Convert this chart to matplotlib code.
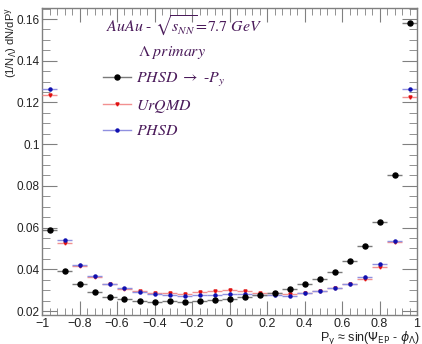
import numpy as np
import matplotlib
matplotlib.use("Agg")
import matplotlib.pyplot as plt
from matplotlib.ticker import MultipleLocator
from matplotlib.lines import Line2D

# ---- data ----
bin_centers = [-0.96, -0.88, -0.80, -0.72, -0.64, -0.56, -0.48, -0.40, -0.32, -0.24, -0.16, -0.08,
               0.00, 0.08, 0.16, 0.24, 0.32, 0.40, 0.48, 0.56, 0.64, 0.72, 0.80, 0.88, 0.96]
phsd_flip = [0.0590, 0.0392, 0.0328, 0.0293, 0.0269, 0.0258, 0.0250, 0.0245, 0.0247, 0.0244,
             0.0248, 0.0253, 0.0258, 0.0268, 0.0275, 0.0287, 0.0305, 0.0328, 0.0353, 0.0389,
             0.0441, 0.0512, 0.0628, 0.0852, 0.1579]
urqmd = [0.1235, 0.0527, 0.0418, 0.0365, 0.0329, 0.0307, 0.0294, 0.0287, 0.0287, 0.0283,
         0.0293, 0.0295, 0.0303, 0.0295, 0.0288, 0.0287, 0.0280, 0.0285, 0.0295, 0.0311,
         0.0330, 0.0355, 0.0412, 0.0530, 0.1224]
phsd = [0.1263, 0.0540, 0.0422, 0.0368, 0.0331, 0.0309, 0.0293, 0.0283, 0.0277, 0.0273,
        0.0278, 0.0279, 0.0283, 0.0280, 0.0275, 0.0275, 0.0273, 0.0285, 0.0296, 0.0312,
        0.0331, 0.0365, 0.0424, 0.0536, 0.1263]
bin_half_width = 0.04
x_ticks = [-1, -0.8, -0.6, -0.4, -0.2, 0, 0.2, 0.4, 0.6, 0.8, 1]
x_tick_labels = ["\u22121", "\u22120.8", "\u22120.6", "\u22120.4", "\u22120.2", "0", "0.2", "0.4", "0.6", "0.8", "1"]
y_ticks = [0.02, 0.04, 0.06, 0.08, 0.1, 0.12, 0.14, 0.16]
y_tick_labels = ["0.02", "0.04", "0.06", "0.08", "0.1", "0.12", "0.14", "0.16"]

plt.rcParams['font.family'] = ['Liberation Sans', 'DejaVu Sans']
plt.rcParams['mathtext.fontset'] = 'stix'

fig = plt.figure(figsize=(4.22, 3.44), dpi=100)
ax = fig.add_axes([42/422, 29/344, 375/422, 307/344])

txtcol = '#4a1a5a'
axcol = '#808080'
col_b, ecol_b = 'black', '#7a7a7a'
col_r, ecol_r = '#e01010', '#f29090'
col_u, ecol_u = '#1010b0', '#9090e0'

ax.errorbar(bin_centers, phsd_flip, xerr=bin_half_width, yerr=0.0004, fmt='o', color=col_b,
            ecolor=ecol_b, elinewidth=1.0, markersize=3.6, capsize=0, zorder=5)
ax.errorbar(bin_centers, urqmd, xerr=bin_half_width, yerr=0.0007, fmt='v', color=col_r,
            ecolor=ecol_r, elinewidth=1.0, markersize=2.2, capsize=0, zorder=3)
ax.errorbar(bin_centers, phsd, xerr=bin_half_width, yerr=0.0007, fmt='o', color=col_u,
            ecolor=ecol_u, elinewidth=1.0, markersize=2.2, capsize=0, zorder=4)

ax.set_xlim(-1, 1)
ax.set_ylim(0.0181, 0.1653)
ax.set_xticks(x_ticks)
ax.set_xticklabels(x_tick_labels)
ax.set_yticks(y_ticks)
ax.set_yticklabels(y_tick_labels)
ax.xaxis.set_minor_locator(MultipleLocator(0.04))
ax.yaxis.set_minor_locator(MultipleLocator(0.005))
ax.tick_params(which='both', direction='in', top=True, right=True, color=axcol,
               labelcolor='#222222')
ax.tick_params(axis='x', which='major', length=10, pad=2.0, labelsize=9)
ax.tick_params(axis='x', which='minor', length=5)
ax.tick_params(axis='y', which='major', length=11, pad=1.5, labelsize=8.5)
ax.tick_params(axis='y', which='minor', length=5.5)
for s in ax.spines.values():
    s.set_color(axcol)
    s.set_linewidth(1.0)

# axis titles (ROOT style)
fig.text(420/422, 2/344, "P$_{\\rm y}$ \u2248 sin($\\Psi_{\\rm EP}$ - $\\phi_{\\Lambda}$)", ha='right',
         va='baseline', fontsize=9, color='#222222', math_fontfamily='dejavusans')
fig.text(3/422, 337/344, r"(1/N$_{\Lambda}$) dN/dP$^{\rm y}$", rotation=90, ha='left', va='top',
         fontsize=8, color='#222222', math_fontfamily='dejavusans')

# annotations
fs = 11.4
ax.text(0.171, 0.943, r"$AuAu\ \text{-}\ \sqrt{s_{NN}}\!=\!7.7\ GeV$", transform=ax.transAxes,
        fontsize=fs, color=txtcol, ha='left', va='center')
ax.text(0.255, 0.855, r"$\mathrm{\Lambda}\ primary$", transform=ax.transAxes,
        fontsize=fs, color=txtcol, ha='left', va='center')

handles = [Line2D([], [], color=ecol_b, marker='o', markerfacecolor=col_b, markeredgecolor=col_b,
                  markersize=3.6, lw=1.0),
           Line2D([], [], color=ecol_r, marker='v', markerfacecolor=col_r, markeredgecolor=col_r,
                  markersize=2.2, lw=1.0),
           Line2D([], [], color=ecol_u, marker='o', markerfacecolor=col_u, markeredgecolor=col_u,
                  markersize=2.2, lw=1.0)]
leg = ax.legend(handles,
                [r"$PHSD\ \rightarrow\ \text{-}P_{y}$", r"$UrQMD$", r"$PHSD$"],
                loc='upper left', bbox_to_anchor=(0.163, 0.795), frameon=False,
                fontsize=fs, labelcolor=txtcol, handlelength=1.73, handletextpad=0.32,
                labelspacing=0.55, borderaxespad=0, borderpad=0)

fig.savefig("out.png", dpi=100)
